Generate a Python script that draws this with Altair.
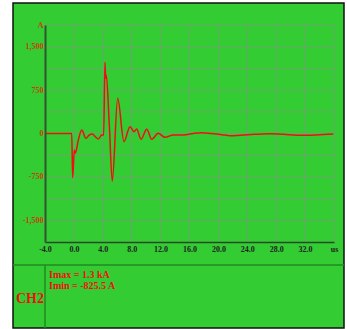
import altair as alt
import pandas as pd

# waveform samples (time in us, current in A)
t_us = [-4.0, -0.30, -0.17, 0.06, 0.19, 0.60, 1.08, 1.67, 2.10, 2.55, 3.00, 3.38, 3.85, 4.12,
        4.30, 4.40, 4.48, 4.90, 5.31, 6.06, 6.93, 7.76, 8.32, 8.69, 9.29, 10.08, 10.77,
        11.68, 12.61, 13.76, 14.69, 15.5, 16.5, 17.7, 19.0, 20.5, 21.6, 23.0, 25.0,
        27.1, 29.0, 31.7, 33.5, 35.9]
amps = [0, 0, -764, -285, -342, -120, 60, -83, -30, -9, -60, -95, -26, -26,
        1230, 954, 1010, 150, -820, 608, -141, 118, 31, 78, -100, 73, -100,
        3, -66, -26, -26, -20, 0, 14, 0, -20, -38, -30, -15,
        -3, -15, -31, -25, -9]

x_grid = [-4, 0, 4, 8, 12, 16, 20, 24, 28, 32, 36]
x_labels = ["-4.0", "0.0", "4.0", "8.0", "12.0", "16.0", "20.0", "24.0", "28.0", "32.0", "us"]
y_grid = [-1875, -1500, -1125, -750, -375, 0, 375, 750, 1125, 1500, 1875]
y_label_vals = [-1500, -750, 0, 750, 1500, 1875]
y_labels = ["-1,500", "-750", "0", "750", "1,500", "A"]

info_lines = ["Imax = 1.3 kA", "Imin = -825.5 A"]
channel = "CH2"

df = pd.DataFrame({"t": t_us, "i": amps})

GREEN = "#33cc33"
GRID = "#6aa66a"
FONT = "Liberation Serif"


def expr(vals, labels):
    parts = [f"datum.value == {v} ? '{l}'" for v, l in zip(vals, labels)]
    return " : ".join(parts) + " : ''"


xs = alt.Scale(domain=[-4, 36], nice=False, zero=False)
ys = alt.Scale(domain=[-1875, 1875], nice=False, zero=False)

x_axis = alt.Axis(values=x_grid, labelExpr=expr(x_grid, x_labels), grid=False,
                  ticks=False, domainColor="#1f4f1f", domainWidth=1.5,
                  labelFont=FONT, labelFontSize=8, labelFontWeight="bold",
                  labelColor="#222222", labelFlush=False, labelOverlap=False,
                  labelPadding=3, title=None, zindex=1)
y_axis = alt.Axis(values=y_label_vals, labelExpr=expr(y_label_vals, y_labels),
                  grid=False, ticks=False, domainColor="#2a5a2a", domainWidth=2,
                  labelFont=FONT, labelFontSize=8, labelFontWeight="bold",
                  labelColor="#c8400c", labelFlush=False, labelOverlap=False,
                  labelPadding=2, title=None, zindex=1)

one = alt.Data(values=[{"k": 1}])

frame = alt.Chart(one).mark_rect(fill=GREEN, stroke="#111111", strokeWidth=1.5).encode(
    x=alt.value(-32), x2=alt.value(299), y=alt.value(-22), y2=alt.value(303))

vgrid = alt.Chart(pd.DataFrame({"t": x_grid})).mark_rule(color=GRID, strokeWidth=1).encode(
    x=alt.X("t:Q", scale=xs, axis=x_axis))
hgrid = alt.Chart(pd.DataFrame({"i": y_grid})).mark_rule(color=GRID, strokeWidth=1).encode(
    y=alt.Y("i:Q", scale=ys, axis=y_axis))

sep_h = alt.Chart(one).mark_rule(color="#228a22", strokeWidth=1.5).encode(
    x=alt.value(-32), x2=alt.value(299), y=alt.value(240))
sep_v = alt.Chart(one).mark_rule(color="#228a22", strokeWidth=1.5).encode(
    x=alt.value(0), y=alt.value(240), y2=alt.value(303))

line = alt.Chart(df).mark_line(color="#ee1010", strokeWidth=1.5, interpolate="monotone").encode(
    x=alt.X("t:Q", scale=xs, axis=x_axis),
    y=alt.Y("i:Q", scale=ys, axis=y_axis),
)


def label(text, x, y, size):
    return alt.Chart(alt.Data(values=[{"s": text}])).mark_text(
        font=FONT, fontSize=size, fontWeight="bold", color="#ee1010", align="left",
        baseline="alphabetic").encode(x=alt.value(x), y=alt.value(y), text="s:N")


ch = label(channel, -29, 278, 14)
info1 = label(info_lines[0], 4, 252.5, 10)
info2 = label(info_lines[1], 4, 264, 10)

chart = alt.layer(frame, vgrid, hgrid, sep_h, sep_v, line, ch, info1, info2).properties(
    width=289, height=217,
    padding={"left": 45, "top": 25, "right": 13, "bottom": 87},
    autosize=alt.AutoSizeParams(type="none"),
    background="white",
).configure_view(stroke=None)

chart.save("out.html", embed_options={"renderer": "svg", "actions": False})
